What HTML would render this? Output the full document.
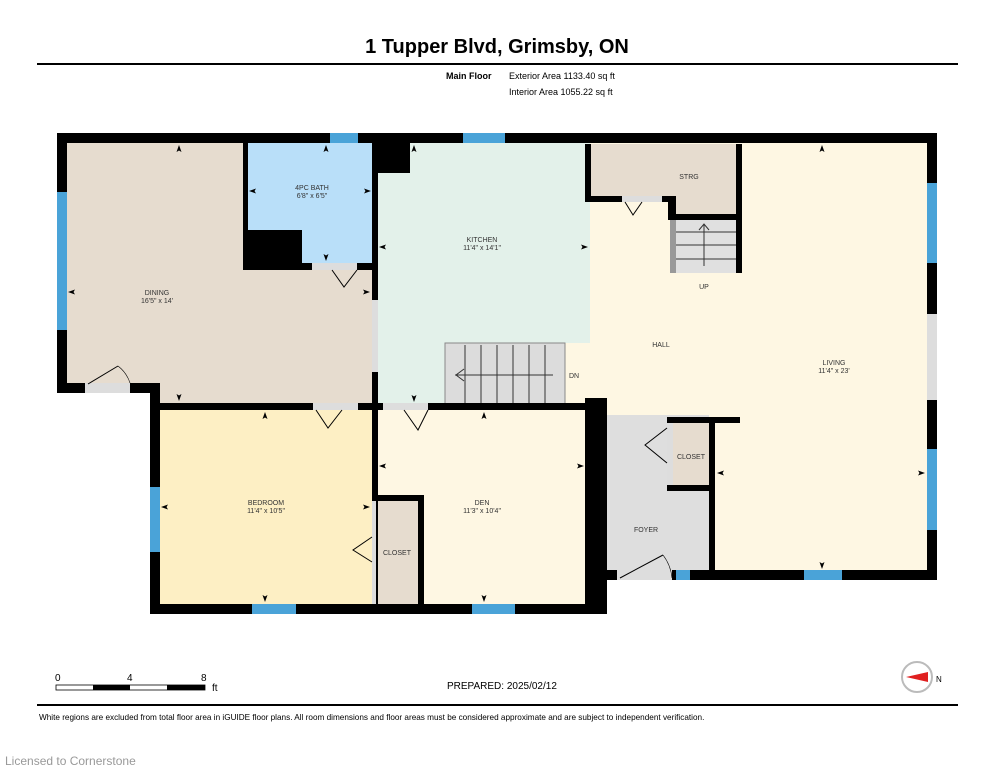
<!DOCTYPE html>
<html><head><meta charset="utf-8"><style>
html,body{margin:0;padding:0;background:#fff;width:994px;height:768px;overflow:hidden}
svg{display:block}
text{font-family:"Liberation Sans",sans-serif}
</style></head><body>
<svg width="994" height="768" viewBox="0 0 994 768">
<defs><polygon id="au" points="0,-4 -2.5,3 0,1.5 2.5,3" fill="#000"/></defs>
<text x="497" y="53" font-size="20" font-weight="bold" text-anchor="middle">1 Tupper Blvd, Grimsby, ON</text>
<rect x="37" y="63" width="921" height="2" fill="#000"/>
<text x="446" y="79" font-size="9" font-weight="bold">Main Floor</text>
<text x="509" y="79" font-size="9">Exterior Area 1133.40 sq ft</text>
<text x="509" y="95" font-size="9">Interior Area 1055.22 sq ft</text>

<rect x="60" y="136" width="874" height="440" fill="#fef7e3"/>
<rect x="67" y="143" width="306" height="260" fill="#e6dccf"/>
<rect x="248" y="143" width="125" height="120" fill="#b9dff9"/>
<rect x="378" y="143" width="212" height="200" fill="#e3f1ea"/>
<rect x="378" y="343" width="70" height="62" fill="#e3f1ea"/>
<rect x="160" y="410" width="212" height="194" fill="#fdefc4"/>
<rect x="378" y="410" width="207" height="194" fill="#fef7e3"/>
<rect x="607" y="415" width="102" height="160" fill="#dedede"/>
<rect x="591" y="144" width="145" height="52" fill="#e6dccf"/>
<rect x="676" y="196" width="60" height="20" fill="#e6dccf"/>
<rect x="673" y="423" width="36" height="68" fill="#e6dccf"/>
<rect x="376" y="501" width="42" height="103" fill="#e6dccf"/>
<rect x="57" y="393" width="93" height="230" fill="#fff"/>
<rect x="595" y="580" width="345" height="50" fill="#fff"/>
<rect x="445" y="343" width="120" height="62" fill="#dcdcdc" stroke="#888" stroke-width="1"/>
<g stroke="#333" stroke-width="1"><line x1="465" y1="345" x2="465" y2="405"/><line x1="481" y1="345" x2="481" y2="405"/><line x1="497" y1="345" x2="497" y2="405"/><line x1="513" y1="345" x2="513" y2="405"/><line x1="529" y1="345" x2="529" y2="405"/><line x1="545" y1="345" x2="545" y2="405"/><line x1="455" y1="375" x2="553" y2="375"/><polyline points="464,369 456,375 464,381" fill="none"/></g>
<rect x="670" y="220" width="66" height="53" fill="#e0e0e0"/>
<rect x="670" y="220" width="6" height="53" fill="#999"/>
<g stroke="#333" stroke-width="1"><line x1="676" y1="232" x2="736" y2="232"/><line x1="676" y1="245" x2="736" y2="245"/><line x1="676" y1="259" x2="736" y2="259"/><line x1="704" y1="266" x2="704" y2="224"/><polyline points="699,230 704,224 709,230" fill="none"/></g>

<g fill="#000">
<rect x="57" y="133" width="880" height="10"/>
<rect x="57" y="133" width="10" height="260"/>
<rect x="927" y="133" width="10" height="447"/>
<rect x="57" y="383" width="103" height="10"/>
<rect x="150" y="383" width="10" height="231"/>
<rect x="150" y="403" width="228" height="7"/>
<rect x="378" y="403" width="207" height="7"/>
<rect x="150" y="604" width="445" height="10"/>
<rect x="372" y="143" width="6" height="471"/>
<rect x="373" y="143" width="37" height="30"/>
<rect x="243" y="143" width="5" height="127"/>
<rect x="243" y="230" width="59" height="40"/>
<rect x="243" y="263" width="135" height="7"/>
<rect x="585" y="398" width="22" height="216"/>
<rect x="595" y="570" width="342" height="10"/>
<rect x="709" y="417" width="6" height="158"/>
<rect x="667" y="417" width="73" height="6"/>
<rect x="667" y="485" width="42" height="6"/>
<rect x="585" y="144" width="6" height="58"/>
<rect x="585" y="196" width="87" height="6"/>
<rect x="668" y="196" width="8" height="24"/>
<rect x="670" y="214" width="72" height="6"/>
<rect x="736" y="144" width="6" height="129"/>
<rect x="418" y="495" width="6" height="109"/>
<rect x="372" y="495" width="52" height="6"/>
</g>
<g fill="#4aa3d8">
<rect x="57" y="192" width="10" height="138"/>
<rect x="330" y="133" width="28" height="10"/>
<rect x="463" y="133" width="42" height="10"/>
<rect x="927" y="183" width="10" height="80"/>
<rect x="927" y="449" width="10" height="81"/>
<rect x="804" y="570" width="38" height="10"/>
<rect x="676" y="570" width="14" height="10"/>
<rect x="150" y="487" width="10" height="65"/>
<rect x="252" y="604" width="44" height="10"/>
<rect x="472" y="604" width="43" height="10"/>
</g>
<rect x="927" y="314" width="10" height="86" fill="#ddd"/>
<rect x="372" y="300" width="6" height="72" fill="#ddd"/>
<g fill="#ddd"><rect x="85" y="383" width="45" height="10"/><rect x="312" y="263" width="45" height="7"/><rect x="313" y="403" width="45" height="7"/><rect x="383" y="403" width="45" height="7"/><rect x="622" y="196" width="40" height="6"/><rect x="667" y="423" width="6" height="62"/><rect x="372" y="501" width="4" height="103"/><rect x="617" y="570" width="55" height="10"/></g>
<g stroke="#000" stroke-width="1" fill="none">
<polyline points="332,270 344,287 357,270"/><polyline points="316,410 328,428 342,410"/>
<polyline points="404,410 418,430 428,410"/><polyline points="625,202 633,215 642,202"/>
<polyline points="667,428 645,445 667,463"/><polyline points="372,537 353,550 372,562"/>
<line x1="88" y1="384" x2="118" y2="366"/><path d="M118,366 A35,35 0 0 1 130,383" stroke-width="0.6"/>
<line x1="620" y1="578" x2="663" y2="555"/><path d="M663,555 A45,45 0 0 1 672,578" stroke-width="0.6"/>
</g>
<!-- dimension arrowheads -->
<use href="#au" x="179" y="149"/><use href="#au" x="179" y="397" transform="rotate(180 179 397)"/>
<use href="#au" x="72" y="292" transform="rotate(-90 72 292)"/><use href="#au" x="366" y="292" transform="rotate(90 366 292)"/>
<use href="#au" x="326" y="149"/><use href="#au" x="326" y="257" transform="rotate(180 326 257)"/>
<use href="#au" x="253" y="191" transform="rotate(-90 253 191)"/><use href="#au" x="367" y="191" transform="rotate(90 367 191)"/>
<use href="#au" x="414" y="149"/><use href="#au" x="414" y="398" transform="rotate(180 414 398)"/>
<use href="#au" x="383" y="247" transform="rotate(-90 383 247)"/><use href="#au" x="584" y="247" transform="rotate(90 584 247)"/>
<use href="#au" x="822" y="149"/><use href="#au" x="822" y="565" transform="rotate(180 822 565)"/>
<use href="#au" x="721" y="473" transform="rotate(-90 721 473)"/><use href="#au" x="921" y="473" transform="rotate(90 921 473)"/>
<use href="#au" x="265" y="416"/><use href="#au" x="265" y="598" transform="rotate(180 265 598)"/>
<use href="#au" x="165" y="507" transform="rotate(-90 165 507)"/><use href="#au" x="366" y="507" transform="rotate(90 366 507)"/>
<use href="#au" x="484" y="416"/><use href="#au" x="484" y="598" transform="rotate(180 484 598)"/>
<use href="#au" x="383" y="466" transform="rotate(-90 383 466)"/><use href="#au" x="580" y="466" transform="rotate(90 580 466)"/>
<g font-size="7" fill="#333" text-anchor="middle">
<text x="157" y="295">DINING</text><text x="157" y="303">16'5" x 14'</text>
<text x="312" y="190">4PC BATH</text><text x="312" y="198">6'8" x 6'5"</text>
<text x="482" y="242">KITCHEN</text><text x="482" y="250">11'4" x 14'1"</text>
<text x="689" y="179">STRG</text><text x="704" y="289">UP</text>
<text x="661" y="347">HALL</text><text x="574" y="378">DN</text>
<text x="834" y="365">LIVING</text><text x="834" y="373">11'4" x 23'</text>
<text x="691" y="459">CLOSET</text><text x="646" y="532">FOYER</text>
<text x="266" y="505">BEDROOM</text><text x="266" y="513">11'4" x 10'5"</text>
<text x="482" y="505">DEN</text><text x="482" y="513">11'3" x 10'4"</text>
<text x="397" y="555">CLOSET</text>
</g>
<text x="55" y="681" font-size="10">0</text><text x="127" y="681" font-size="10">4</text><text x="201" y="681" font-size="10">8</text>
<text x="212" y="691" font-size="10">ft</text>
<rect x="56" y="685" width="149" height="5" fill="#fff" stroke="#000" stroke-width="0.8"/>
<rect x="93" y="685" width="37" height="5" fill="#000"/><rect x="167" y="685" width="38" height="5" fill="#000"/>
<text x="447" y="689" font-size="10">PREPARED: 2025/02/12</text>
<circle cx="917" cy="677" r="15" fill="#fff" stroke="#bbb" stroke-width="2"/>
<polygon points="906,677 928,672 928,682" fill="#e02020"/>
<text x="936" y="682" font-size="8">N</text>
<rect x="37" y="704" width="921" height="2" fill="#000"/>
<text x="39" y="720" font-size="8.2">White regions are excluded from total floor area in iGUIDE floor plans. All room dimensions and floor areas must be considered approximate and are subject to independent verification.</text>
<text x="5" y="765" font-size="12" fill="#999">Licensed to Cornerstone</text>
</svg>
</body></html>
